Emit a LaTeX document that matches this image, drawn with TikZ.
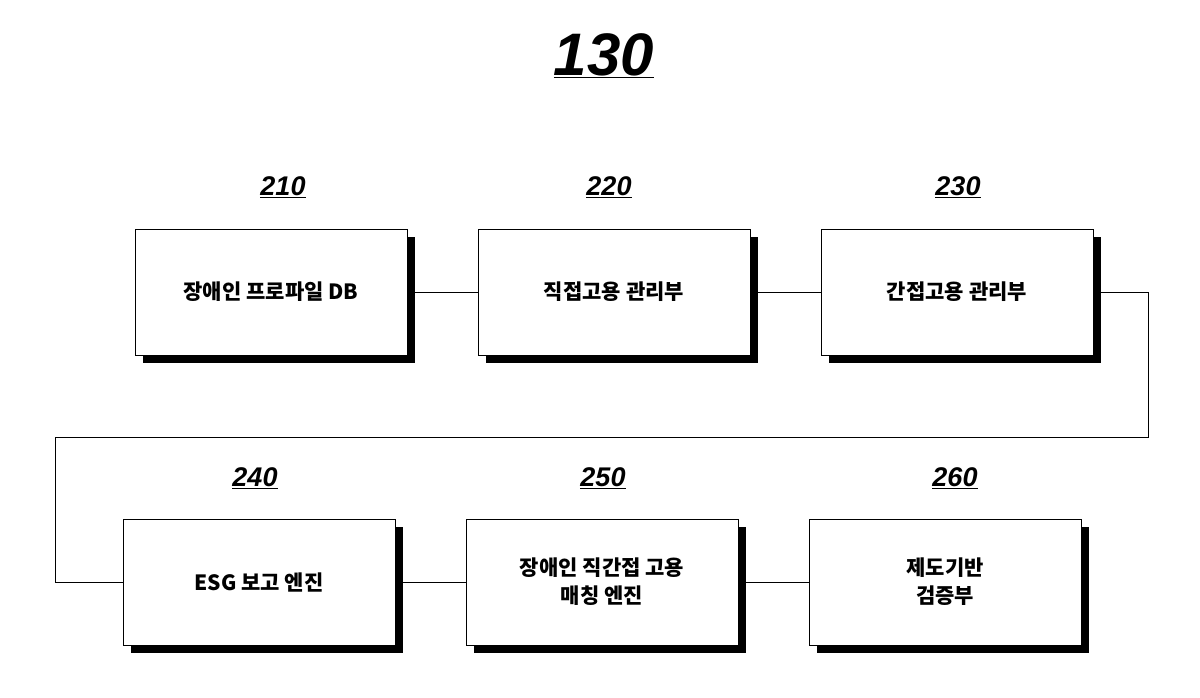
\documentclass[tikz,border=0pt]{standalone}
\usepackage{fontspec}
\newfontfamily\kor{Noto Sans CJK KR}
\newfontfamily\numf{Liberation Sans}
\usetikzlibrary{positioning, shadows}

\tikzset{
  blk/.style={draw, thick, fill=white, minimum width=272pt, minimum height=126pt,
    align=center, font=\kor\bfseries\fontsize{21}{28}\selectfont,
    drop shadow={shadow xshift=8pt, shadow yshift=-8pt, fill=black, opacity=1}},
  num/.style={font=\numf\bfseries\itshape\fontsize{27}{30}\selectfont},
}

\begin{document}
\begin{tikzpicture}[x=1pt, y=-1pt]
  \useasboundingbox (0,0) rectangle (1200,697);
  \node[font=\numf\bfseries\itshape\fontsize{60}{64}\selectfont] (title) at (604,56) {\underline{130}};

  \node[blk] (b210) at (271,292) {장애인 프로파일 DB};
  \node[blk] (b220) at (614,292) {직접고용 관리부};
  \node[blk] (b230) at (957,292) {간접고용 관리부};
  \node[blk] (b240) at (259,582) {ESG 보고 엔진};
  \node[blk] (b250) at (602,582) {장애인 직간접 고용\\매칭 엔진};
  \node[blk] (b260) at (945,582) {제도기반\\검증부};

  \foreach \n/\x/\y in {210/283/187, 220/609/187, 230/958/187, 240/255/478, 250/603/478, 260/955/478}
    \node[num] (l\n) at (\x,\y) {\underline{\n}};

  \coordinate (c1) at (1148,292);
  \coordinate (c2) at (1148,437);
  \coordinate (c3) at (55,437);
  \coordinate (c4) at (55,582);

  \draw (b210) -- (b220);
  \draw (b220) -- (b230);
  \draw (b230.east) -- (c1) -- (c2) -- (c3) -- (c4) -- (b240.west);
  \draw (b240) -- (b250);
  \draw (b250) -- (b260);
\end{tikzpicture}
\end{document}
